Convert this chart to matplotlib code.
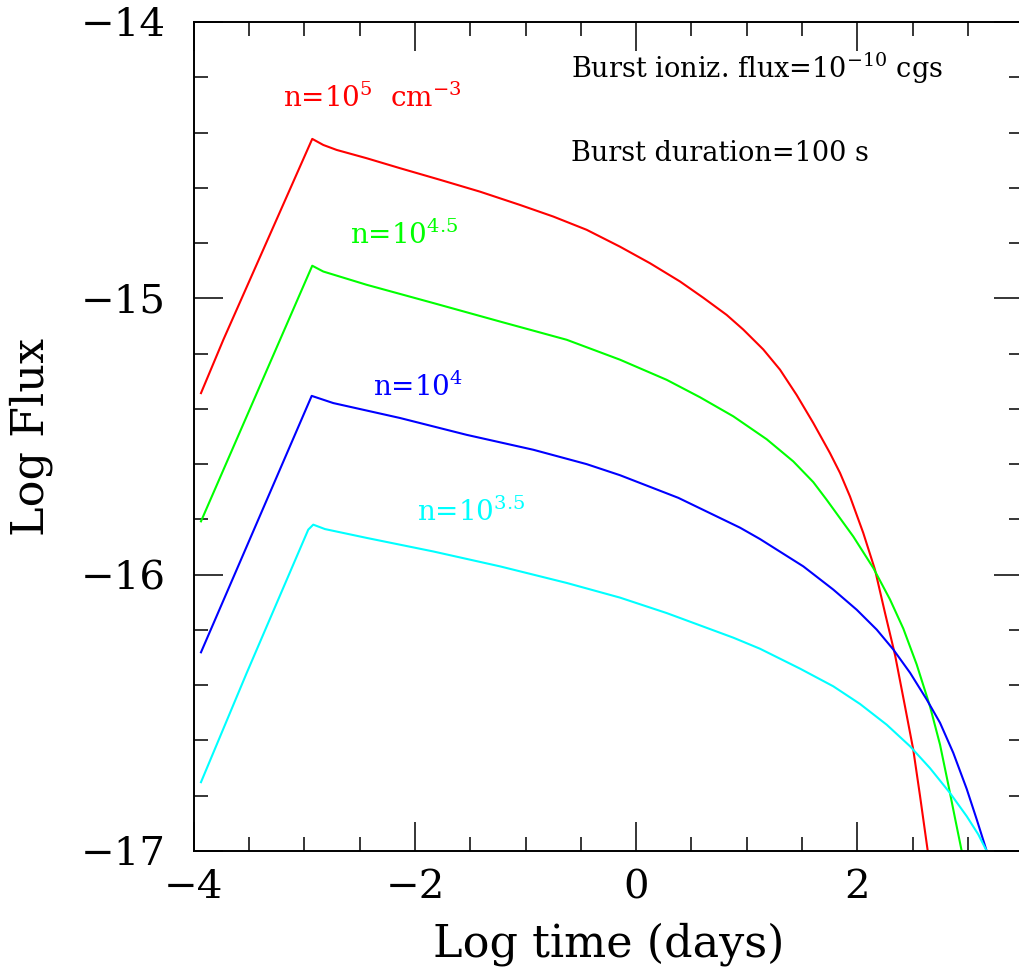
# Light curves of burst-ionized gas for several densities
import matplotlib
matplotlib.use('Agg')
import matplotlib.pyplot as plt
from matplotlib.ticker import MultipleLocator

plt.rcParams['font.family'] = 'DejaVu Serif'
plt.rcParams['mathtext.fontset'] = 'dejavuserif'

# log time (days) and log flux
x_red = [-3.935, -3.733, -3.40, -2.929, -2.829, -2.708, -2.437, -2.136, -1.774,
         -1.412, -1.051, -0.750, -0.448, -0.147, 0.125, 0.396, 0.607, 0.818,
         0.968, 1.149, 1.300, 1.451, 1.601, 1.752, 1.843, 1.933, 2.053, 2.159,
         2.250, 2.340, 2.430, 2.505, 2.566, 2.636]
y_red = [-15.343, -15.150, -14.849, -14.423, -14.445, -14.463, -14.493, -14.529,
         -14.571, -14.614, -14.662, -14.704, -14.752, -14.813, -14.873, -14.939,
         -14.998, -15.060, -15.113, -15.185, -15.258, -15.350, -15.451, -15.560,
         -15.632, -15.717, -15.849, -15.982, -16.139, -16.290, -16.476, -16.633,
         -16.800, -17.0]

x_green = [-3.935, -2.929, -2.829, -2.437, -1.835, -1.231, -0.628, -0.147, 0.276,
           0.577, 0.878, 1.180, 1.420, 1.601, 1.722, 1.963, 2.144, 2.295, 2.415,
           2.536, 2.656, 2.747, 2.822, 2.882, 2.943]
y_green = [-15.807, -14.882, -14.903, -14.951, -15.017, -15.084, -15.150, -15.222,
           -15.295, -15.358, -15.427, -15.510, -15.590, -15.665, -15.729, -15.862,
           -15.976, -16.090, -16.195, -16.325, -16.476, -16.615, -16.760, -16.880,
           -17.0]

x_blue = [-3.935, -2.934, -2.739, -2.136, -1.533, -0.930, -0.448, -0.147, 0.381,
          0.939, 1.119, 1.511, 1.782, 1.994, 2.175, 2.325, 2.476, 2.627, 2.747,
          2.867, 2.988, 3.079, 3.169]
y_blue = [-16.281, -15.353, -15.379, -15.433, -15.494, -15.548, -15.600, -15.640,
          -15.722, -15.830, -15.871, -15.970, -16.054, -16.127, -16.199, -16.271,
          -16.355, -16.452, -16.536, -16.645, -16.775, -16.886, -17.0]

x_cyan = [-3.935, -3.522, -2.965, -2.920, -2.814, -2.437, -1.835, -1.231, -0.628,
          -0.147, 0.276, 0.878, 1.119, 1.481, 1.782, 2.024, 2.265, 2.476, 2.656,
          2.837, 2.988, 3.093, 3.169]
y_cyan = [-16.751, -16.356, -15.837, -15.819, -15.835, -15.867, -15.916, -15.970,
          -16.030, -16.083, -16.139, -16.228, -16.268, -16.340, -16.404, -16.468,
          -16.543, -16.621, -16.700, -16.790, -16.874, -16.940, -17.0]

fig = plt.figure(figsize=(10.2, 9.8), dpi=100)
ax = fig.add_axes([193.8 / 1020, 1 - 851 / 980, (1023.3 - 193.8) / 1020, (851 - 22) / 980])

lw = 1.5
ax.plot(x_red, y_red, color='#ff0000', lw=lw)
ax.plot(x_green, y_green, color='#00ff00', lw=lw)
ax.plot(x_blue, y_blue, color='#0000ff', lw=lw)
ax.plot(x_cyan, y_cyan, color='#00ffff', lw=lw)

ax.set_xlim(-4, 3.5)
ax.set_ylim(-17, -14)

ax.xaxis.set_major_locator(MultipleLocator(2))
ax.xaxis.set_minor_locator(MultipleLocator(0.5))
ax.yaxis.set_major_locator(MultipleLocator(1))
ax.yaxis.set_minor_locator(MultipleLocator(0.2))
ax.tick_params(which='both', direction='in', top=True, right=True, width=1.1)
ax.tick_params(which='major', length=21)
ax.tick_params(which='minor', length=10)
ax.tick_params(axis='x', labelsize=29, pad=13)
ax.tick_params(axis='y', labelsize=29, pad=20)
for s in ax.spines.values():
    s.set_linewidth(1.4)

ax.set_xlabel('Log time (days)', fontsize=32, labelpad=12)
ax.set_ylabel('Log Flux', fontsize=32, labelpad=20)

fs = 20
ax.text(-3.19, -14.306, 'n=10$^{5}$  cm$^{-3}$', color='#ff0000', fontsize=fs)
ax.text(-2.588, -14.803, 'n=10$^{4.5}$', color='#00ff00', fontsize=fs)
ax.text(-2.382, -15.353, 'n=10$^{4}$', color='#0000ff', fontsize=fs)
ax.text(-1.985, -15.805, 'n=10$^{3.5}$', color='#00ffff', fontsize=fs)
ax.text(-0.592, -14.204, 'Burst ioniz. flux=10$^{-10}$ cgs', color='black', fontsize=19.5)
ax.text(-0.592, -14.502, 'Burst duration=100 s', color='black', fontsize=19.5)

fig.savefig('out.png', dpi=100)
